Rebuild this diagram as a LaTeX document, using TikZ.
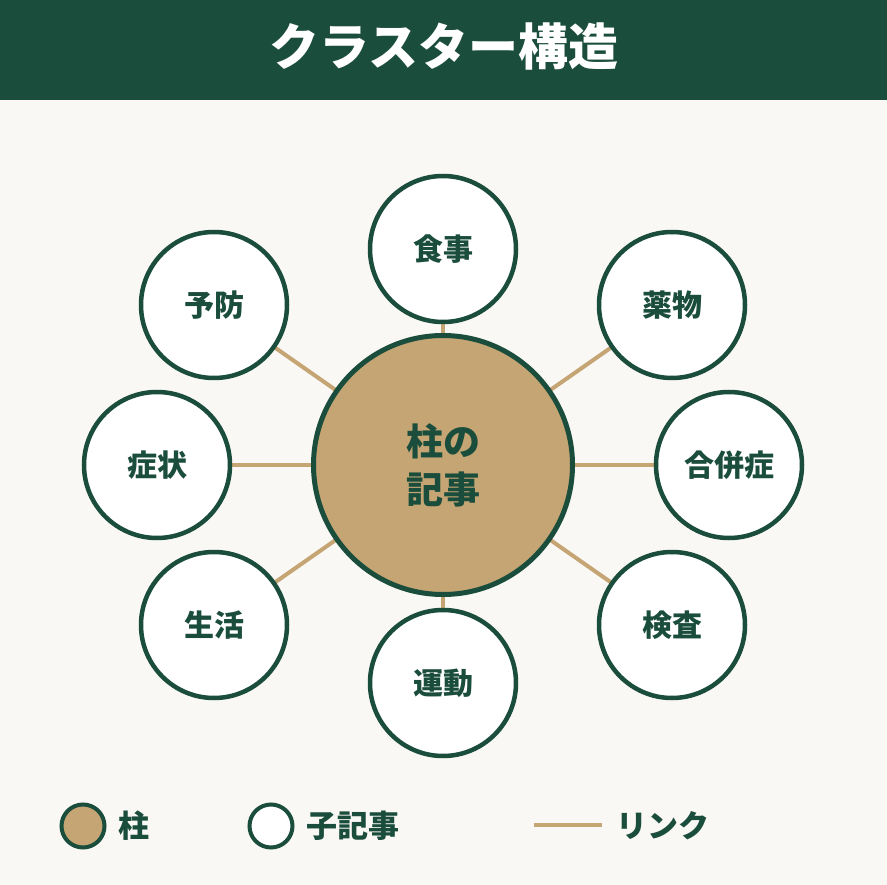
\documentclass[tikz,border=0pt]{standalone}
\usepackage{fontspec}
\setmainfont{Noto Sans CJK JP}
\definecolor{dgreen}{HTML}{1B4D3C}
\definecolor{tan}{HTML}{C4A573}
\definecolor{bg}{HTML}{FAF8F5}
\begin{document}
\begin{tikzpicture}[x=1pt,y=-1pt,
  link/.style={draw=tan,line width=4pt},
  pillar/.style={circle,draw=dgreen,fill=tan,line width=5pt,minimum size=259pt,inner sep=0pt,text=dgreen,font=\fontsize{37}{48}\selectfont\bfseries,align=center},
  child/.style={circle,draw=dgreen,fill=white,line width=4.5pt,minimum size=146pt,inner sep=0pt,text=dgreen,font=\fontsize{30}{34}\selectfont\bfseries},
  legtext/.style={anchor=west,text=dgreen,inner sep=0pt,font=\fontsize{31}{34}\selectfont\bfseries}]
\fill[bg] (0,0) rectangle (887,885);
\useasboundingbox (0,0) rectangle (887,885);
\fill[dgreen] (0,0) rectangle (887,100);
\node[text=white,font=\fontsize{50}{56}\selectfont\bfseries] (title) at (443.5,47) {クラスター構造};
% links
\coordinate (c0) at (443,465);
\foreach \n/\x/\y in {a/443/249, b/214/305, c/157/465, d/214/625, e/443/683, f/672/625, g/729/465, h/672/305}{
  \coordinate (p\n) at (\x,\y);
  \draw[link] (c0) -- (p\n);
}
\node[pillar] (center) at (c0) {柱の\\記事};
\node[child] (n1) at (pa) {食事};
\node[child] (n2) at (pb) {予防};
\node[child] (n3) at (pc) {症状};
\node[child] (n4) at (pd) {生活};
\node[child] (n5) at (pe) {運動};
\node[child] (n6) at (pf) {検査};
\node[child] (n7) at (pg) {合併症};
\node[child] (n8) at (ph) {薬物};
% legend
\node[circle,draw=dgreen,fill=tan,line width=4pt,minimum size=43pt,inner sep=0pt] (l1) at (83,826) {};
\node[legtext] (t1) at (118,826) {柱};
\node[circle,draw=dgreen,fill=white,line width=4pt,minimum size=43pt,inner sep=0pt] (l2) at (271,826) {};
\node[legtext] (t2) at (306,826) {子記事};
\coordinate (la) at (534,825);
\coordinate (lb) at (602,825);
\draw[link] (la) -- (lb);
\node[legtext] (t3) at (616,826) {リンク};
\end{tikzpicture}
\end{document}
